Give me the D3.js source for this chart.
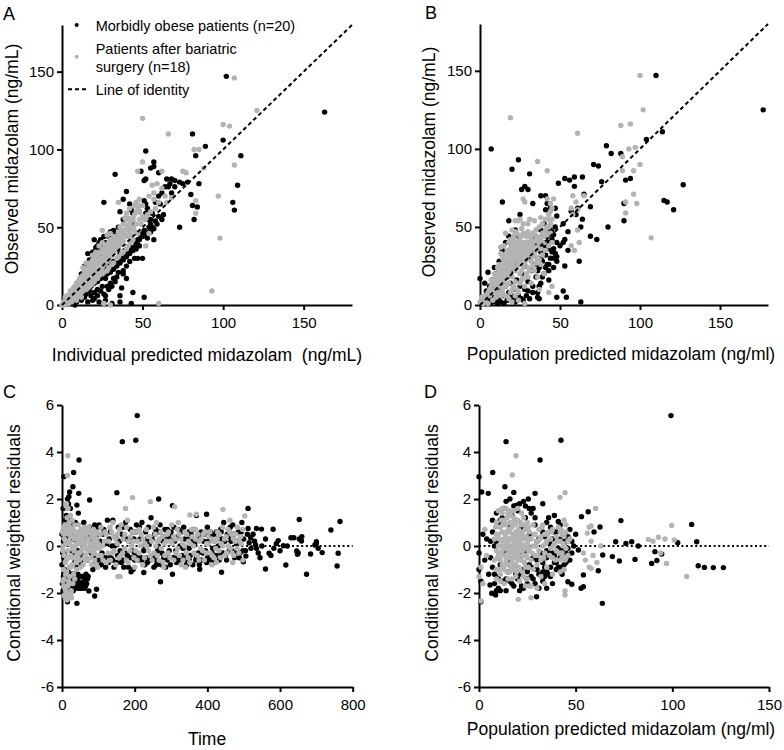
<!DOCTYPE html>
<html><head><meta charset="utf-8">
<script src="https://cdn.jsdelivr.net/npm/d3@7"></script>
<style>body{margin:0;background:#fff}svg{display:block;font-family:"Liberation Sans",Arial,Helvetica,sans-serif}</style>
</head><body><svg id="c" width="784" height="750"></svg>
<script>
// ---------- DATA ----------
// Panel A: individual predicted (x) vs observed (y), ng/mL
const aBlack=[[102,147],[163,124],[100,106],[81,110],[89,102],[83,96],[111,96],[109,77],[106,66],[107,61],[52,99],[33,84],[40,73],[26,66],[49,86],[57,92],[57,89],[51,80],[52,81],[65,81],[68,81],[70,80],[67,78],[66,76],[73,79],[78,79],[80,71],[81,64],[84,63],[82,55],[73,50],[51,67],[52,65],[43,61],[44,59],[52,59],[56,50],[57,42],[50,30],[46,36],[47,30],[51,5],[44,8],[43,1],[37,11],[36,6],[32,17],[27,17],[26,7],[23,2],[19,3],[15,7],[16,2],[3,5],[6,1],[8,0],[56,59],[63,58],[61,65],[60,70],[55,55],[53,62],
[10,6],[12,8],[13,10],[14,9],[15,11],[16,12],[17,13],[18,12],[19,15],[20,14],[21,16],[22,15],[23,18],[24,17],[25,19],[26,18],[27,21],[28,20],[29,22],[30,21],[31,24],[32,23],[33,26],[34,25],[35,28],[36,27],[37,30],[38,29],[39,32],[40,31],[41,34],[42,33],[43,36],[44,35],[45,38],[46,40],[47,39],[48,42],[49,44],[50,46],[51,48],[52,47],[54,50],[55,52],[58,54],[60,57],[30,14],[28,12],[25,12],[22,10],[20,8],[34,18],[38,22],[40,25],[42,28],[45,30],[35,21],[33,15],[24,9],[18,6],[20,4],[12,3],[14,5],
[10,12],[12,15],[14,18],[15,20],[16,22],[17,25],[18,28],[19,30],[20,32],[21,35],[22,38],[23,40],[16,33],[21,37],[17,29],[14,25],[12,20],[8,10],[6,7],[4,3],[2,1],[24,42],[26,44],[20,42],[30,47],[33,45],[35,50],[38,55],[36,60],
[44,40],[48,38],[52,45],[53,43],[55,47],[57,49],[59,52],[62,55],[47,42],[43,39],[39,35],[36,33],[32,28],[29,26],[27,24],[24,20],[21,18],[19,17],[26,23],[31,27],[41,37],[45,41],[50,44],[38,20],[40,17],[31,12],[29,10],[27,6],[22,6],[17,9],[13,6],[11,4],[9,2],[27,3],[31,1],[36,2],[18,22],[20,25],[22,28],[24,31],[19,34],[24,37],[27,40],[29,44],[32,48],[45,52],[48,60],[42,65],[38,68],[58,66],[62,72],[64,76],[55,88],[60,85],[70,76],[75,78],[68,72],[85,78]];
const aGrey=[[107,146],[121,125],[100,116],[104,115],[50,120],[66,110],[82,100],[85,100],[88,88],[107,90],[97,70],[98,43],[93,9],[60,1],[75,86],[77,85],[50,92],[47,86],[62,86],[56,77],[57,72],[64,70],[65,66],[68,69],[83,59],[83,67],[35,66],[25,48],[40,59],[45,64],[50,64],[52,55],[54,46],[52,38],[30,0],[26,1],[58,62],[60,66],[48,60],[44,55],[42,50],
[0,0],[1,2],[2,1],[2,3],[3,4],[4,3],[4,5],[5,6],[5,4],[6,7],[6,5],[7,8],[7,6],[8,9],[8,7],[9,11],[9,8],[10,12],[10,9],[11,13],[11,10],[12,14],[12,11],[13,15],[13,12],[14,16],[14,13],[15,18],[15,14],[16,19],[16,15],[17,20],[17,16],[18,21],[18,17],[19,23],[19,18],[20,24],[20,19],[21,25],[21,20],[22,26],[22,21],[23,28],[23,22],[24,29],[24,23],[25,30],[25,24],[26,31],[26,26],[27,33],[27,27],[28,34],[28,28],[29,35],[29,29],[30,36],[30,31],[31,37],[31,32],[32,38],[32,34],[33,40],[33,35],[34,41],[34,36],[35,42],[35,37],[36,44],[36,39],[37,45],[38,46],[38,41],[39,48],[40,49],[40,44],[41,50],[42,52],[43,54],[44,56],[45,58],[46,60],[47,62],[48,64],[20,28],[22,31],[24,34],[26,36],[28,39],[30,42],[32,44],[18,26],[16,24],[14,21],[12,18],[10,15],[8,12],[25,40],[23,38],[28,45],[30,46],[10,6],[12,8],[14,10],[16,11],[18,13],[6,3],[4,1],[8,4],[20,15],[22,17],[25,20],[28,22],[31,26],[34,30],[37,33],[40,36],[43,40],[13,24],[15,27],[19,32],[21,34],[36,50],[38,52],[40,55],[42,48],[44,50],[46,52],[48,55],[50,57],
[3,6],[5,9],[7,11],[9,14],[11,17],[13,19],[15,23],[17,27],[19,29],[21,31],[23,33],[25,36],[27,38],[29,40],[31,42],[33,43],[35,46],[37,48],[39,52],[41,56],[6,2],[9,5],[11,7],[13,9],[15,10],[17,12],[19,14],[21,17],[23,19],[26,21],[29,24],[32,27],[35,31],[38,34],[41,38],[44,42],[47,46],[7,10],[11,16],[14,23],[17,22],[19,26],[22,27],[24,30],[26,33],[27,35],[29,37],[31,39],[33,38],[34,44],[36,47],[21,29],[18,23],[16,20],[24,27],[28,31],[30,34],[32,40],[34,39],[26,28],[2,5],[1,0],[3,1],[5,2],[9,3],[12,5],[39,45],[42,47],[45,48],[43,45],[41,44],[37,42],[35,40],[29,33],[27,30],[23,27],[20,22],[17,18],[14,15],[11,11],[55,60],[53,58],[49,52],[51,55],[57,68],[62,75],[59,78],[54,70],[48,68],[46,66],[42,62],[39,56]];

// Panel B: population predicted (x) vs observed (y)
const bBlack=[[110,147],[177,125],[114,111],[104,106],[79,102],[82,97],[88,97],[91,80],[94,81],[90,65],[90,54],[115,67],[117,66],[121,61],[127,77],[80,50],[69,44],[73,42],[71,90],[74,89],[76,79],[69,63],[65,71],[64,82],[59,82],[56,80],[53,81],[49,78],[59,76],[61,62],[64,55],[63,50],[52,52],[53,42],[48,31],[53,25],[62,28],[52,9],[54,5],[63,2],[48,5],[37,4],[36,5],[29,6],[24,93],[20,87],[7,100],[31,84],[26,74],[28,76],[14,66],[18,54],[33,65],[42,65],[41,61],[48,57],[0,17],[5,21],[57,60],[60,58],[55,47],[45,47],[40,52],[38,48],
[2,2],[3,5],[4,1],[5,3],[6,7],[6,1],[7,4],[8,10],[8,2],[9,6],[10,12],[10,3],[11,8],[11,15],[12,5],[12,18],[13,10],[13,2],[14,14],[14,22],[15,6],[15,26],[16,12],[16,30],[17,18],[17,3],[18,8],[18,35],[19,14],[20,22],[20,4],[21,10],[22,28],[22,2],[23,16],[24,6],[25,36],[25,12],[26,20],[27,3],[28,25],[28,10],[29,40],[30,15],[30,30],[31,4],[32,22],[32,35],[33,12],[34,38],[34,26],[35,18],[35,44],[36,30],[36,8],[37,40],[37,24],[38,34],[38,14],[39,44],[39,28],[40,20],[40,38],[41,32],[41,46],[42,26],[42,40],[43,36],[43,22],[44,30],[44,48],[45,42],[46,36],[46,24],[47,33],[12,28],[10,20],[8,16],[6,12],[14,35],[16,40],[20,38],[24,44],[9,24],[18,44],
[42,44],[44,40],[45,34],[46,45],[47,50],[48,40],[38,30],[36,22],[39,18],[41,24],[43,16],[37,12],[33,8],[30,9],[26,4],[20,6],[23,3],[15,1],[11,1],[9,3],[7,6],[4,9],[3,14],[10,16],[12,22],[19,26],[17,22],[23,26],[27,34],[30,36],[33,42],[43,26],[46,30],[48,28],[50,38],[52,40],[55,35],[41,70],[38,70],[44,62],[47,62],[30,74],[25,58],[22,48]];
const bGrey=[[100,147],[102,125],[19,120],[61,110],[88,115],[94,116],[93,100],[97,101],[89,95],[100,90],[96,86],[89,86],[96,71],[98,65],[91,66],[91,59],[107,43],[36,92],[42,86],[58,70],[60,66],[57,62],[58,58],[65,70],[61,61],[61,48],[59,35],[62,40],[57,38],[27,68],[28,66],[31,55],[24,54],[16,46],[13,37],[45,12],[43,8],[37,10],[20,2],[24,3],[28,1],[0,2],[1,5],[2,1],[3,3],[44,60],[44,65],[43,55],[42,50],[20,48],[22,47],[26,49],[30,47],
[5,8],[6,10],[7,12],[8,14],[8,8],[9,16],[9,10],[10,18],[10,13],[11,20],[11,15],[12,22],[12,12],[13,24],[13,17],[14,26],[14,19],[15,28],[15,21],[15,14],[16,30],[16,23],[16,17],[17,32],[17,25],[17,19],[18,34],[18,27],[18,21],[19,36],[19,29],[19,23],[20,38],[20,31],[20,25],[20,18],[21,40],[21,33],[21,27],[22,35],[22,29],[22,22],[23,37],[23,31],[23,24],[24,39],[24,33],[24,26],[25,41],[25,35],[25,28],[25,20],[26,37],[26,30],[26,22],[27,39],[27,32],[27,25],[28,40],[28,34],[28,27],[29,36],[29,29],[30,38],[30,32],[30,24],[31,40],[31,34],[32,36],[32,28],[33,38],[33,31],[34,41],[34,33],[35,44],[35,35],[36,37],[36,30],[37,40],[38,43],[38,36],[39,46],[40,44],[40,40],[41,48],[42,45],[43,50],[44,52],[44,46],[45,55],[10,5],[12,8],[14,10],[16,12],[18,14],[22,15],[26,16],[30,18],[34,22],[38,26],[20,10],[24,8],[28,12],[32,14],[36,18],[40,20],[15,32],[18,40],[22,42],[26,44],[30,44],[14,30],[12,26],[11,24],[18,4],[22,6],
[11,18],[13,21],[15,24],[17,28],[19,32],[21,36],[23,40],[25,44],[27,46],[29,44],[31,45],[33,46],[35,48],[37,50],[39,52],[41,55],[43,58],[45,62],[46,68],[42,68],[14,8],[16,6],[19,8],[21,12],[23,10],[25,14],[27,17],[29,20],[31,22],[33,25],[35,27],[37,29],[39,32],[41,35],[43,38],[45,40],[12,15],[14,17],[18,24],[20,28],[22,32],[24,30],[26,34],[28,36],[30,40],[32,42],[34,36],[36,42],[38,40],[40,46],[17,35],[19,42],[21,44],[23,46],[15,38],[13,33],[27,52],[25,55],[30,52],[34,54],[38,56],[22,54],[9,20],[7,16],[6,6],[8,3],[10,8],[13,6],[5,1],[3,6]];

// Panel C: time (x) vs conditional weighted residuals (y)
const cBlack=[[207,5.55],[203,4.5],[166,4.44],[47,3.66],[32,3.13],[5,2.95],[30,2.52],[21,2.3],[46,2.24],[41,1.74],[76,1.96],[151,2.27],[266,2.0],[304,1.72],[512,1.6],[398,1.35],[653,1.13],[765,1.04],[740,0.68],[581,0.71],[437,0.71],[535,0.75],[549,0.72],[512,0.75],[757,-0.85],[760,-0.31],[716,-0.28],[684,-0.34],[673,-1.2],[616,-0.81],[560,-0.98],[379,-0.99],[439,-1.12],[304,-1.2],[271,-1.52],[225,-1.13],[196,-0.99],[41,-2.44],[15,-2.37],[90,-2.13],[95,-1.84],[74,-1.91],[53,-1.73],[700,0.18],[696,0.04],[646,-0.21],[648,-0.35],[638,0.35],[609,0.01],[595,0.23],[583,-0.1],[570,-0.31],[653,0.3],[659,0.21],[515,0.14],[533,0.04],[506,-0.43],[499,-0.67],[526,0.5],[519,0.35],
[5,-1.2],[8,-1.5],[10,-1.8],[12,-2.0],[15,-1.3],[18,-1.6],[20,-1.2],[22,-1.4],[25,-1.5],[28,-1.7],[30,-1.3],[33,-1.6],[35,-1.2],[38,-1.4],[40,-1.7],[43,-1.8],[45,-1.5],[48,-1.3],[50,-1.6],[55,-1.8],[58,-1.7],[60,-1.5],[62,-1.8],[65,-1.7],[68,-1.6],[70,-1.4],[5,-0.5],[8,0.3],[10,0.8],[12,1.3],[15,2.0],[18,1.8],[20,1.2],[25,0.5],[28,-0.3],[30,0.9],[35,-0.7],[40,0.2],[42,-0.9],[45,1.4],[50,0.6],[55,-0.4],[60,1.0],[65,0.3],[70,-0.6],[75,0.8],[80,-0.3],[85,-1.0],[90,0.9],[95,0.4],[2,-0.3],[0,-0.8],[0,0.5],[3,1.6],
[100,-0.6],[105,0.2],[110,-0.3],[115,0.7],[120,-0.9],[125,1.1],[130,0.3],[135,-0.5],[140,1.1],[145,0.0],[150,-0.7],[155,0.8],[160,-0.2],[165,0.5],[170,-0.9],[175,1.0],[180,-0.4],[185,0.2],[190,-1.1],[195,0.6],[200,-0.3],[205,0.9],[210,-0.6],[215,0.3],[220,1.0],[225,-0.2],[230,0.6],[235,-0.7],[240,0.1],[245,1.2],[250,-0.4],[255,0.5],[260,-0.8],[265,0.0],[270,0.9],[275,-0.3],[280,0.4],[285,-0.9],[290,0.7],[295,-0.2],[300,0.6],[305,-0.5],[310,0.2],[315,-0.7],[320,0.7],[325,0.0],[330,-0.4],[335,0.8],[340,-0.6],[345,0.3],[350,-0.1],[355,0.5],[360,-0.8],[365,0.1],[370,1.3],[375,-0.3],[380,0.5],[385,-0.6],[390,0.2],[395,-0.2],[400,0.8],[405,-0.5],[410,0.4],[415,-0.1],[420,-0.7],[425,0.6],[430,0.0],[435,-0.3],[440,0.3],[445,1.0],[450,-0.4],[455,0.5],[460,-0.2],[465,0.2],[470,0.9],[475,-0.5],[480,0.1],[485,0.6],[490,-0.3],[495,1.0],[500,0.3],[505,-0.2],[510,0.5],[520,-0.1],[530,0.2],[540,-0.3],[550,0.0],[170,-0.6],[230,-0.5],[290,-0.6],[350,-0.6],[410,-0.6],[130,-0.4],[190,-0.5],[250,-0.5],[310,-0.5],[370,-0.5],
[590,0.1],[600,-0.2],[620,0.0],[630,0.35],[660,0.4],[650,-0.3],[700,0.1],[705,-0.1],[560,0.3],[575,-0.4],[545,-0.5],[535,-0.1],
[1,-1.6],[3,-1.9],[4,-1.3],[6,-1.4],[7,-1.0],[9,-1.3],[11,-1.5],[13,-1.8],[14,-1.2],[16,-1.9],[17,-1.1],[19,-1.4],[21,-1.6],[23,-1.3],[24,-2.0],[26,-1.7],[27,-1.2],[29,-1.2],[31,-1.9],[32,-1.5],[34,-1.3],[36,-1.7],[37,-1.3],[39,-1.6],[42,-1.5],[44,-1.2],[46,-1.7],[47,-1.6],[49,-1.8],[52,-1.7],[54,-1.6],[56,-1.3],[59,-1.3],[63,-1.6],[66,-1.2],[72,-1.3],[4,0.2],[7,-0.3],[9,1.1],[11,0.4],[13,-0.5],[17,0.1],[19,2.1],[23,1.6],[26,-0.4],[32,0.3],[37,1.0],[44,-0.2],[52,-0.7],[57,0.2],[62,-0.4],[67,0.7],[73,-0.1],[78,0.4],[83,0.2],[88,-0.8],[93,-0.5],[98,0.8],
[102,0.9],[108,-0.8],[112,0.5],[118,-0.5],[123,0.1],[128,-0.7],[133,0.6],[138,0.0],[143,-0.9],[148,0.4],[153,-0.4],[158,0.2],[163,-0.7],[168,0.8],[173,-0.3],[178,0.3],[183,-0.9],[188,0.7],[193,-0.2],[198,0.3],[203,0.6],[208,-0.4],[213,0.8],[218,-0.5],[223,0.0],[228,-0.8],[233,0.3],[238,0.8],[243,-0.6],[248,0.3],[253,-0.9],[258,0.7],[263,-0.2],[268,0.6],[273,-0.8],[278,0.2],[283,0.7],[288,-0.4],[293,0.3],[298,-0.8],[303,0.4],[308,0.8],[313,-0.2],[318,0.4],[323,-0.6],[328,0.6],[333,-0.1],[338,0.3],[343,-0.8],[348,0.6],[353,-0.4],[358,0.2],[363,0.7],[368,-0.6],[373,0.3],[378,-0.8],[383,0.6],[388,-0.3],[393,0.5],[398,-0.7],[403,0.2],[408,0.6],[413,-0.3],[418,0.5],[423,-0.4],[428,0.3],[433,-0.6],[438,0.6],[443,-0.3],[448,0.2],[453,-0.6],[458,0.4],[463,0.8],[468,-0.2],[473,0.5],[478,-0.3],[483,0.2],[488,-0.5],[493,0.6],[498,-0.2],[140,-0.6],[200,-0.6],[260,-0.6],[320,-0.6],[380,-0.6],[160,-0.5],[220,-0.6],[280,-0.5],[340,-0.5],[400,-0.5]];
const cGrey=[[16,3.84],[15,3.0],[12,1.8],[194,2.06],[243,1.89],[175,1.6],[310,1.67],[370,1.35],[352,1.32],[443,1.56],[503,1.28],[462,1.1],[154,-1.3],[160,-1.3],[7,-2.08],[20,-2.2],[25,-2.0],[10,-1.9],
[2,-1.5],[4,-1.0],[5,0.5],[6,-0.4],[8,0.9],[8,-1.8],[10,0.2],[10,-1.2],[12,-0.6],[14,0.7],[15,-2.1],[16,-0.2],[18,0.5],[18,-1.5],[20,-0.9],[22,0.1],[22,0.8],[24,-0.4],[25,-1.9],[26,0.4],[28,-0.8],[30,0.6],[30,-0.1],[32,-1.2],[34,0.3],[35,0.9],[36,-0.5],[38,0.0],[40,0.6],[40,-1.0],[42,-0.3],[45,0.3],[46,0.9],[48,-0.6],[50,0.1],[52,0.7],[54,-0.2],[56,0.4],[58,-0.8],[60,0.2],[62,0.8],[64,-0.4],[66,0.5],[68,-0.1],[70,0.7],[72,-0.6],[74,0.3],[76,-0.2],[78,0.6],[80,0.0],[82,-0.8],[84,0.4],[86,-0.3],[88,0.2],[90,-0.6],[92,0.5],[94,-0.1],[96,0.3],[98,-0.9],[100,0.1],[14,1.2],[20,1.0],[26,-2.2],[30,-1.6],[12,-1.7],[6,-2.1],[3,0.0],[1,0.6],[28,1.1],[35,-1.4],
[105,0.5],[108,-0.4],[112,0.0],[118,0.6],[122,-0.7],[128,0.2],[132,0.8],[138,-0.3],[142,0.4],[148,-0.8],[152,0.1],[158,0.7],[162,-0.4],[168,0.3],[172,-0.1],[178,0.8],[182,-0.7],[188,0.4],[192,0.0],[198,-0.5],[202,0.6],[208,0.2],[212,-0.3],[218,0.5],[222,-0.8],[228,0.1],[232,0.7],[238,-0.2],[242,0.4],[248,-0.6],[252,0.8],[258,0.0],[262,-0.4],[268,0.3],[272,0.6],[278,-0.7],[282,0.1],[288,0.5],[292,-0.3],[298,0.2],[302,0.9],[308,-0.6],[312,0.3],[318,-0.1],[322,0.5],[328,-0.8],[332,0.1],[338,0.6],[342,-0.3],[348,0.2],[352,-0.7],[358,0.4],[362,0.0],[368,0.7],[372,-0.4],[378,0.2],[382,-0.1],[388,0.5],[392,-0.6],[398,0.1],[402,0.4],[408,-0.3],[412,0.3],[418,-0.5],[422,0.2],[428,0.6],[432,-0.2],[438,0.1],[442,0.8],[448,-0.4],[452,0.4],[458,0.0],[462,0.6],[468,-0.3],[472,0.3],[478,0.5],[482,-0.1],[488,0.2],[492,0.4],[498,-0.6],[180,1.1],[260,1.0],[320,1.0],[140,1.0],[200,-0.9],[280,-0.9],
[3,-0.2],[4,0.8],[6,-1.4],[7,0.3],[9,-0.7],[11,0.6],[13,-1.1],[13,0.1],[15,0.9],[17,-0.5],[19,0.2],[21,-1.3],[23,0.6],[24,-0.9],[27,0.0],[29,-0.5],[31,0.7],[33,-0.2],[37,0.4],[39,-0.7],[41,0.1],[44,-0.5],[47,0.5],[49,-0.3],[51,-0.9],[53,0.2],[57,-0.1],[59,0.6],[61,-0.5],[63,0.1],[67,-0.6],[69,0.3],[71,-0.2],[73,0.8],[77,0.1],[79,-0.5],[81,0.5],[83,-0.1],[87,0.7],[89,-0.3],[91,0.1],[93,-0.8],[97,0.6],[99,-0.4],[16,-1.7],[19,-2.0],[22,-1.6],[14,-2.3],[9,-2.2],[5,-1.7],[11,1.7],[17,1.6],[23,1.3],
[103,-0.1],[107,0.8],[113,-0.6],[117,0.2],[121,0.5],[127,-0.3],[133,-0.6],[137,0.6],[143,-0.2],[147,0.3],[153,0.5],[157,-0.5],[163,0.9],[167,-0.3],[173,0.5],[177,-0.6],[183,0.2],[187,-0.2],[193,0.6],[197,0.2],[203,-0.2],[207,-0.6],[213,0.7],[217,0.0],[223,0.3],[227,-0.5],[233,0.0],[237,0.4],[243,-0.4],[247,0.2],[253,-0.3],[257,0.5],[263,0.2],[267,-0.6],[273,-0.1],[277,0.4],[283,-0.4],[287,0.2],[293,0.6],[297,-0.5],[303,0.1],[307,0.4],[313,-0.3],[317,0.7],[323,-0.4],[327,0.3],[333,-0.6],[337,0.0],[343,0.5],[347,-0.5],[353,0.1],[357,0.7],[363,-0.3],[367,0.3],[373,0.5],[377,-0.6],[383,0.3],[387,-0.2],[393,0.6],[397,-0.3],[403,0.1],[407,0.6],[413,-0.4],[417,0.2],[423,-0.1],[427,0.3],[433,0.5],[437,-0.5],[443,0.0],[447,0.3],[453,-0.3],[457,0.7],[463,-0.1],[467,0.5],[473,-0.4],[477,0.2],[483,0.8],[487,-0.3],[493,0.1],[497,0.7],[412,-0.8],[425,-0.7],[340,-0.9],[470,-0.7]];

// Panel D: population predicted (x) vs conditional weighted residuals (y)
const dBlack=[[99.3,5.55],[42.4,4.5],[14,4.44],[31.6,3.66],[7.1,3.13],[0,2.95],[1.4,2.3],[4.8,2.24],[13.4,2.52],[18,2.28],[29,2.24],[25.5,2.0],[19.5,1.74],[53,1.25],[56.5,1.46],[73.4,1.08],[110,0.92],[62.6,0.81],[59.5,0.6],[70.7,0.18],[76,0.11],[79,0.18],[82.4,0],[80.7,-0.57],[72.6,-0.64],[69,-0.45],[64,-0.38],[61.7,-1.05],[63.8,-2.44],[54,-1.73],[52.8,-1.8],[48,-1.63],[46,-1.52],[54,-1.23],[51.4,-0.17],[91,-0.24],[89.3,-0.74],[92,-0.62],[94.5,-0.34],[112.6,0.18],[102.8,0.14],[113.4,-0.84],[116.6,-0.91],[121.2,-0.92],[126.4,-0.92],[29.8,-2.16],[35,-1.8],[24.7,-1.38],[5.7,-1.66],[6.6,-2.01],[8.6,-2.08],[1,-2.37],[41,1.04],[1,-1.5],[0,-0.3],[2,0.5],[0,-1.0],
[6,-0.5],[7,0.6],[8,-1.2],[9,0.2],[10,-1.8],[10,1.0],[11,-0.8],[12,-1.5],[12,1.2],[13,-0.2],[14,-1.9],[15,0.9],[15,-1.1],[16,-0.6],[17,1.3],[17,-1.6],[18,-0.9],[19,0.4],[20,-1.4],[20,1.5],[21,-0.4],[22,-1.7],[22,0.8],[23,-1.0],[24,1.2],[24,-0.3],[25,-1.6],[26,0.5],[26,-0.8],[27,1.4],[27,-1.3],[28,-0.5],[29,0.9],[30,-1.0],[30,0.2],[31,-1.8],[32,0.7],[32,-0.3],[33,-0.7],[34,0.4],[34,-1.3],[35,1.0],[35,-0.5],[36,-0.2],[37,0.8],[37,-0.9],[38,-1.6],[38,0.3],[39,-0.4],[40,0.6],[40,-0.7],[41,-0.1],[42,0.9],[42,-0.5],[43,0.3],[44,-0.8],[44,0.1],[45,-0.3],[46,0.4],[47,-0.6],[48,0.2],[50,0.5],[13,1.6],[16,2.0],[23,1.9],[11,1.1],[9,-1.9],[14,-1.4],[19,-1.2],[21,-1.9],[28,-1.4],[33,-1.1],[36,-1.2],[40,-1.0],[26,1.6],
[7,-0.9],[7,1.1],[8,0.0],[6,0.2],[5,-1.2],[4,0.3],[3,-0.6],[8,-1.6],[9,1.4],[10,-1.3],[11,-1.9],[13,-1.5],[16,-1.5],[18,-1.7],[21,-1.2],[23,-1.8],[25,-1.1],[27,-0.9],[29,-1.6],[31,-1.2],[33,-1.5],[35,-1.1],[37,-1.3],[39,-0.7],[41,-0.9],[43,-1.2],[45,-0.7],[46,-0.1],[47,0.7],[48,-0.3],[49,0.0],[31,0.3],[33,0.6],[35,-0.2],[37,0.1],[39,0.6],[41,0.3],[43,-0.2],[45,0.3],[36,1.2],[39,1.3],[29,1.2],[24,1.7],[21,1.8],[18,1.7],[14,1.9],[28,1.6],[33,1.8],[30,-0.6],[34,-0.9],[38,-0.3],[42,-0.9]];
const dGrey=[[99.7,0.87],[92.8,0.37],[96.2,0.3],[101,0.26],[87.6,0.28],[97,-0.74],[107.4,-1.3],[19.1,3.84],[17.2,3.02],[44.5,2.27],[41.9,2.07],[60.3,1.6],[20.3,-2.27],[26.9,-2.2],[44.5,-1.91],[44.5,-2.08],[58,-0.95],[1,-2.34],[90,0.2],[94,-0.3],[56,0.55],[57,0.8],[58,0.2],[59,-0.4],[61,-0.7],[55,-0.6],[57,-0.9],[58,0.85],[63,0.0],[54,-0.3],[2,-1.6],[1,-0.9],[3,0.7],[0,-1.3],[4,-0.4],
[8,0.3],[8,-0.6],[9,1.0],[9,-0.2],[9,-1.0],[10,0.5],[10,-0.5],[10,0.0],[11,0.8],[11,-0.3],[11,-1.2],[12,0.2],[12,-0.8],[12,0.6],[13,1.1],[13,-0.4],[13,0.0],[13,-1.0],[14,0.4],[14,-0.6],[14,0.9],[14,-0.1],[15,1.4],[15,0.2],[15,-0.8],[15,-0.3],[16,0.6],[16,-0.5],[16,1.0],[16,0.0],[16,-1.1],[17,0.3],[17,-0.7],[17,0.8],[17,-0.2],[18,1.2],[18,0.1],[18,-0.5],[18,-1.0],[19,0.6],[19,-0.3],[19,0.9],[19,-0.8],[20,0.2],[20,-0.6],[20,1.1],[20,0.0],[21,0.5],[21,-1.0],[21,-0.2],[22,0.9],[22,0.1],[22,-0.6],[23,0.4],[23,-0.4],[23,1.2],[24,0.0],[24,-0.9],[24,0.7],[25,0.3],[25,-0.5],[25,1.0],[26,-0.1],[26,0.6],[27,0.3],[27,-0.6],[28,0.9],[28,0.0],[29,-0.4],[29,0.5],[30,0.2],[30,-0.8],[31,0.7],[31,-0.2],[32,0.4],[32,-0.6],[33,0.0],[33,0.9],[34,-0.3],[34,0.5],[35,0.2],[35,-0.9],[36,0.6],[37,-0.1],[37,0.3],[38,0.7],[38,-0.5],[39,0.1],[40,-0.2],[40,0.4],[41,0.8],[42,-0.6],[42,0.2],[43,0.5],[43,-0.3],[44,0.0],[44,-1.0],[45,0.6],[45,-0.5],[10,1.5],[12,1.4],[14,1.6],[18,1.5],[22,1.4],[11,-1.5],[15,-1.4],[19,-1.3],[23,-1.3],[28,-1.0],[32,-1.3],[13,-1.6],[24,-1.7],[26,-1.7],[27,-1.7],[30,-1.8],[34,-1.6],[38,-1.2],[42,-1.1],[46,0.2],[46,-0.4],[47,0.3],
[8.5,0.8],[9.5,-0.5],[10.5,0.3],[10.5,-1.0],[11.5,0.0],[11.5,1.1],[12.5,-0.4],[12.5,0.9],[13.5,0.5],[13.5,-0.8],[14.5,0.1],[14.5,1.2],[14.5,-1.1],[15.5,-0.5],[15.5,0.7],[16.5,0.3],[16.5,-0.9],[16.5,1.3],[17.5,-0.3],[17.5,0.5],[17.5,1.0],[18.5,-0.8],[18.5,0.4],[18.5,-0.1],[19.5,1.1],[19.5,0.0],[19.5,-1.1],[20.5,0.7],[20.5,-0.4],[20.5,-0.9],[21.5,0.3],[21.5,1.0],[21.5,-0.6],[22.5,-0.2],[22.5,0.6],[22.5,-1.1],[23.5,0.9],[23.5,0.0],[23.5,-0.7],[24.5,0.4],[24.5,-0.4],[25.5,0.8],[25.5,-0.2],[25.5,-0.9],[9,0.5],[11,-0.6],[13,0.3],[15,-0.1],[17,0.0],[19,0.3],[21,0.0],[23,-0.1],[25,0.1],[12,-0.2],[14,0.6],[16,0.3],[18,-0.2],[20,0.5],[22,0.4],[24,0.3],[10,-0.3],[26.5,0.3],[27.5,-0.3],[28.5,0.5],[29.5,0.0],[30.5,-0.4],[31.5,0.3],[32.5,0.8],[33.5,-0.5],[34.5,0.1],[35.5,0.5],[36.5,-0.4],[37.5,0.6],[38.5,0.0],[39.5,-0.6],[40.5,0.2],[41.5,-0.3],[42.5,0.7],[43.5,0.1],[44.5,-0.6],[45,0.9],[44,1.1],[42,0.6],[44,0.4],[43,-0.5],[45,-0.1],[20,1.6],[16,1.5],[12,1.6],[17,-1.4],[21,-1.5],[25,-1.4],[9,-1.4]];

// Tick values and labels
const concTicks=[0,50,100,150];
const timeTicks=[0,200,400,600,800];
const resTicks=[-6,-4,-2,0,2,4,6];
const legendLabels=["Morbidly obese patients (n=20)",["Patients after bariatric","surgery (n=18)"],"Line of identity"];

// ---------- STYLE ----------
const BLACK="#000", GREY="#b3b3b3", R=2.7;
const svg=d3.select("#c");

function panel(o){
  const g=svg.append("g");
  const x=d3.scaleLinear().domain(o.xd).range(o.xr);
  const y=d3.scaleLinear().domain(o.yd).range(o.yr);
  const ref=g.append("g");
  const xa=g.append("g").attr("transform",`translate(0,${o.yr[0]})`)
    .call(d3.axisBottom(x).tickValues(o.xt).tickSize(5).tickSizeOuter(0).tickPadding(7).tickFormat(d3.format("d")));
  const ya=g.append("g").attr("transform",`translate(${o.xr[0]},0)`)
    .call(d3.axisLeft(y).tickValues(o.yt).tickSize(5).tickSizeOuter(0).tickPadding(3).tickFormat(d=>d<0?"-"+Math.abs(d):d));
  [xa,ya].forEach(a=>{
    a.select(".domain").attr("stroke","#000").attr("stroke-width",2);
    a.selectAll(".tick line").attr("stroke","#000").attr("stroke-width",2);
    a.selectAll(".tick text").attr("font-size",15).attr("fill","#000").attr("font-family",'"Liberation Sans",Arial,sans-serif');
  });
  const pts=g.append("g");
  pts.selectAll("circle.b").data(o.black).join("circle").attr("class","b")
    .attr("cx",d=>x(d[0])).attr("cy",d=>y(d[1])).attr("r",R).attr("fill",BLACK);
  pts.selectAll("circle.g").data(o.grey).join("circle").attr("class","g")
    .attr("cx",d=>x(d[0])).attr("cy",d=>y(d[1])).attr("r",R).attr("fill",GREY);
  if(o.ref==="identity"){
    g.append("line").attr("x1",x(0)).attr("y1",y(0)).attr("x2",x(180)).attr("y2",y(180))
      .attr("stroke","#000").attr("stroke-width",2).attr("stroke-dasharray","4,3");
  } else {
    ref.append("line").attr("x1",x(o.xd[0])).attr("y1",y(0)).attr("x2",x(o.xd[1])).attr("y2",y(0))
      .attr("stroke","#000").attr("stroke-width",2).attr("stroke-dasharray","2,2.6");
  }
  g.append("text").attr("x",o.xtPos[0]).attr("y",o.xtPos[1]).attr("text-anchor","middle")
    .attr("font-size",17.5).attr("xml:space","preserve").text(o.xTitle);
  g.append("text").attr("transform",`translate(${o.ytPos[0]},${o.ytPos[1]}) rotate(-90)`).attr("text-anchor","middle")
    .attr("font-size",17.5).text(o.yTitle);
  g.append("text").attr("x",o.lab[0]).attr("y",o.lab[1]).attr("font-size",18).text(o.label);
}

panel({label:"A",lab:[3,19.5],xd:[0,180],xr:[62,352],yd:[0,180],yr:[305,25],xt:concTicks,yt:concTicks,
  black:aBlack,grey:aGrey,ref:"identity",xTitle:"Individual predicted midazolam  (ng/mL)",xtPos:[207,360.5],
  yTitle:"Observed midazolam (ng/mL)",ytPos:[18,159]});
panel({label:"B",lab:[425,19],xd:[0,180],xr:[480,768],yd:[0,180],yr:[305,24],xt:concTicks,yt:concTicks,
  black:bBlack,grey:bGrey,ref:"identity",xTitle:"Population predicted midazolam (ng/ml)",xtPos:[621,359.5],
  yTitle:"Observed midazolam (ng/mL)",ytPos:[435,162]});
panel({label:"C",lab:[3,398],xd:[0,800],xr:[62,352.7],yd:[-6,6],yr:[687,405],xt:timeTicks,yt:resTicks,
  black:cBlack,grey:cGrey,ref:"zero",xTitle:"Time",xtPos:[207,745],
  yTitle:"Conditional weighted residuals",ytPos:[19.5,543]});
panel({label:"D",lab:[424,398],xd:[0,150],xr:[479,769],yd:[-6,6],yr:[687,405],xt:concTicks,yt:resTicks,
  black:dBlack,grey:dGrey,ref:"zero",xTitle:"Population predicted midazolam (ng/ml)",xtPos:[621,734.5],
  yTitle:"Conditional weighted residuals",ytPos:[438,543]});

// legend (panel A)
const lg=svg.append("g").attr("font-size",14.5);
lg.append("circle").attr("cx",76.7).attr("cy",25).attr("r",2).attr("fill",BLACK);
lg.append("text").attr("x",95.7).attr("y",31).text(legendLabels[0]);
lg.append("circle").attr("cx",76.7).attr("cy",56.7).attr("r",2).attr("fill",GREY);
lg.append("text").attr("x",95.7).attr("y",54).text(legendLabels[1][0]);
lg.append("text").attr("x",95.7).attr("y",71.5).text(legendLabels[1][1]);
lg.append("line").attr("x1",68).attr("x2",86).attr("y1",89.3).attr("y2",89.3).attr("stroke","#000").attr("stroke-width",2).attr("stroke-dasharray","4,3");
lg.append("text").attr("x",95.7).attr("y",95).text(legendLabels[2]);
</script></body></html>
